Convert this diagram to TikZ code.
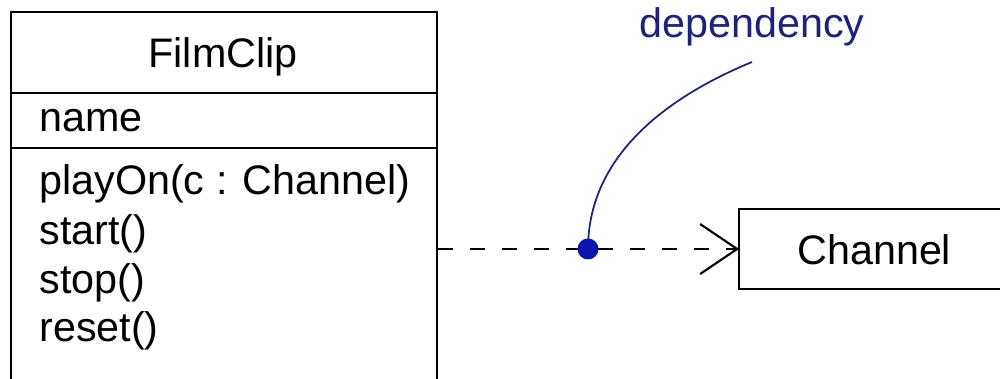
\documentclass[tikz,border=0pt]{standalone}
\usepackage{fontspec}
\setmainfont{Liberation Sans}
\usetikzlibrary{arrows.meta}
\definecolor{depblue}{RGB}{30,35,120}
\definecolor{dotblue}{RGB}{10,20,170}

\begin{document}
\begin{tikzpicture}[
        umlbox/.style={draw, rectangle, line width=1.2pt},
        umlline/.style={line width=1.2pt},
        umlfont/.style={font=\fontsize{23.5}{27}\selectfont},
        umltext/.style={umlfont, anchor=base west, inner sep=0pt},
    ]
        \useasboundingbox (0,0) rectangle (20,7.56);
        \clip (0,0) rectangle (20,7.56);

        % Nodes
        \node[umlbox, minimum width=8.52cm, minimum height=7.82cm] (film) at (4.48,3.41) {};
        \node[umltext, anchor=base] (title) at (4.46,6.20) {FilmClip};
        \node[umltext] (attr) at (0.78,4.92) {name};
        \node[umltext] (op1) at (0.78,3.66) {playOn(c : Channel)};
        \node[umltext] (op2) at (0.78,2.68) {start()};
        \node[umltext] (op3) at (0.78,1.70) {stop()};
        \node[umltext] (op4) at (0.78,0.72) {reset()};
        \node[anchor=west, minimum width=8cm, minimum height=1.6cm] (channel) at (14.78,2.58) {};
        \node[umltext] (chname) at (15.94,2.26) {Channel};
        \node[umltext, anchor=base, text=depblue] (dep) at (15.04,6.80) {dependency};
        \coordinate (dot) at (11.76,2.58);
        \coordinate (depend) at (15.04,6.32);

        % Compartments
        \draw[umlline] ([yshift=-1.64cm]film.north west) -- ([yshift=-1.64cm]film.north east);
        \draw[umlline] ([yshift=-2.74cm]film.north west) -- ([yshift=-2.74cm]film.north east);
        \draw[umlline] (channel.north east) -- (channel.north west) -- (channel.south west) -- (channel.south east);

        % Edges
        \draw[umlline, dash pattern=on 0.3cm off 0.34cm,
              -{Straight Barb[length=0.74cm, width=1cm]}] (channel.west -| film.east) -- (channel.west);
        \draw[depblue, line width=1pt] (dot) .. controls (11.76,4.36) and (13.2,5.56) .. (depend);
        \fill[dotblue] (dot) circle (0.21);
    \end{tikzpicture}
\end{document}
